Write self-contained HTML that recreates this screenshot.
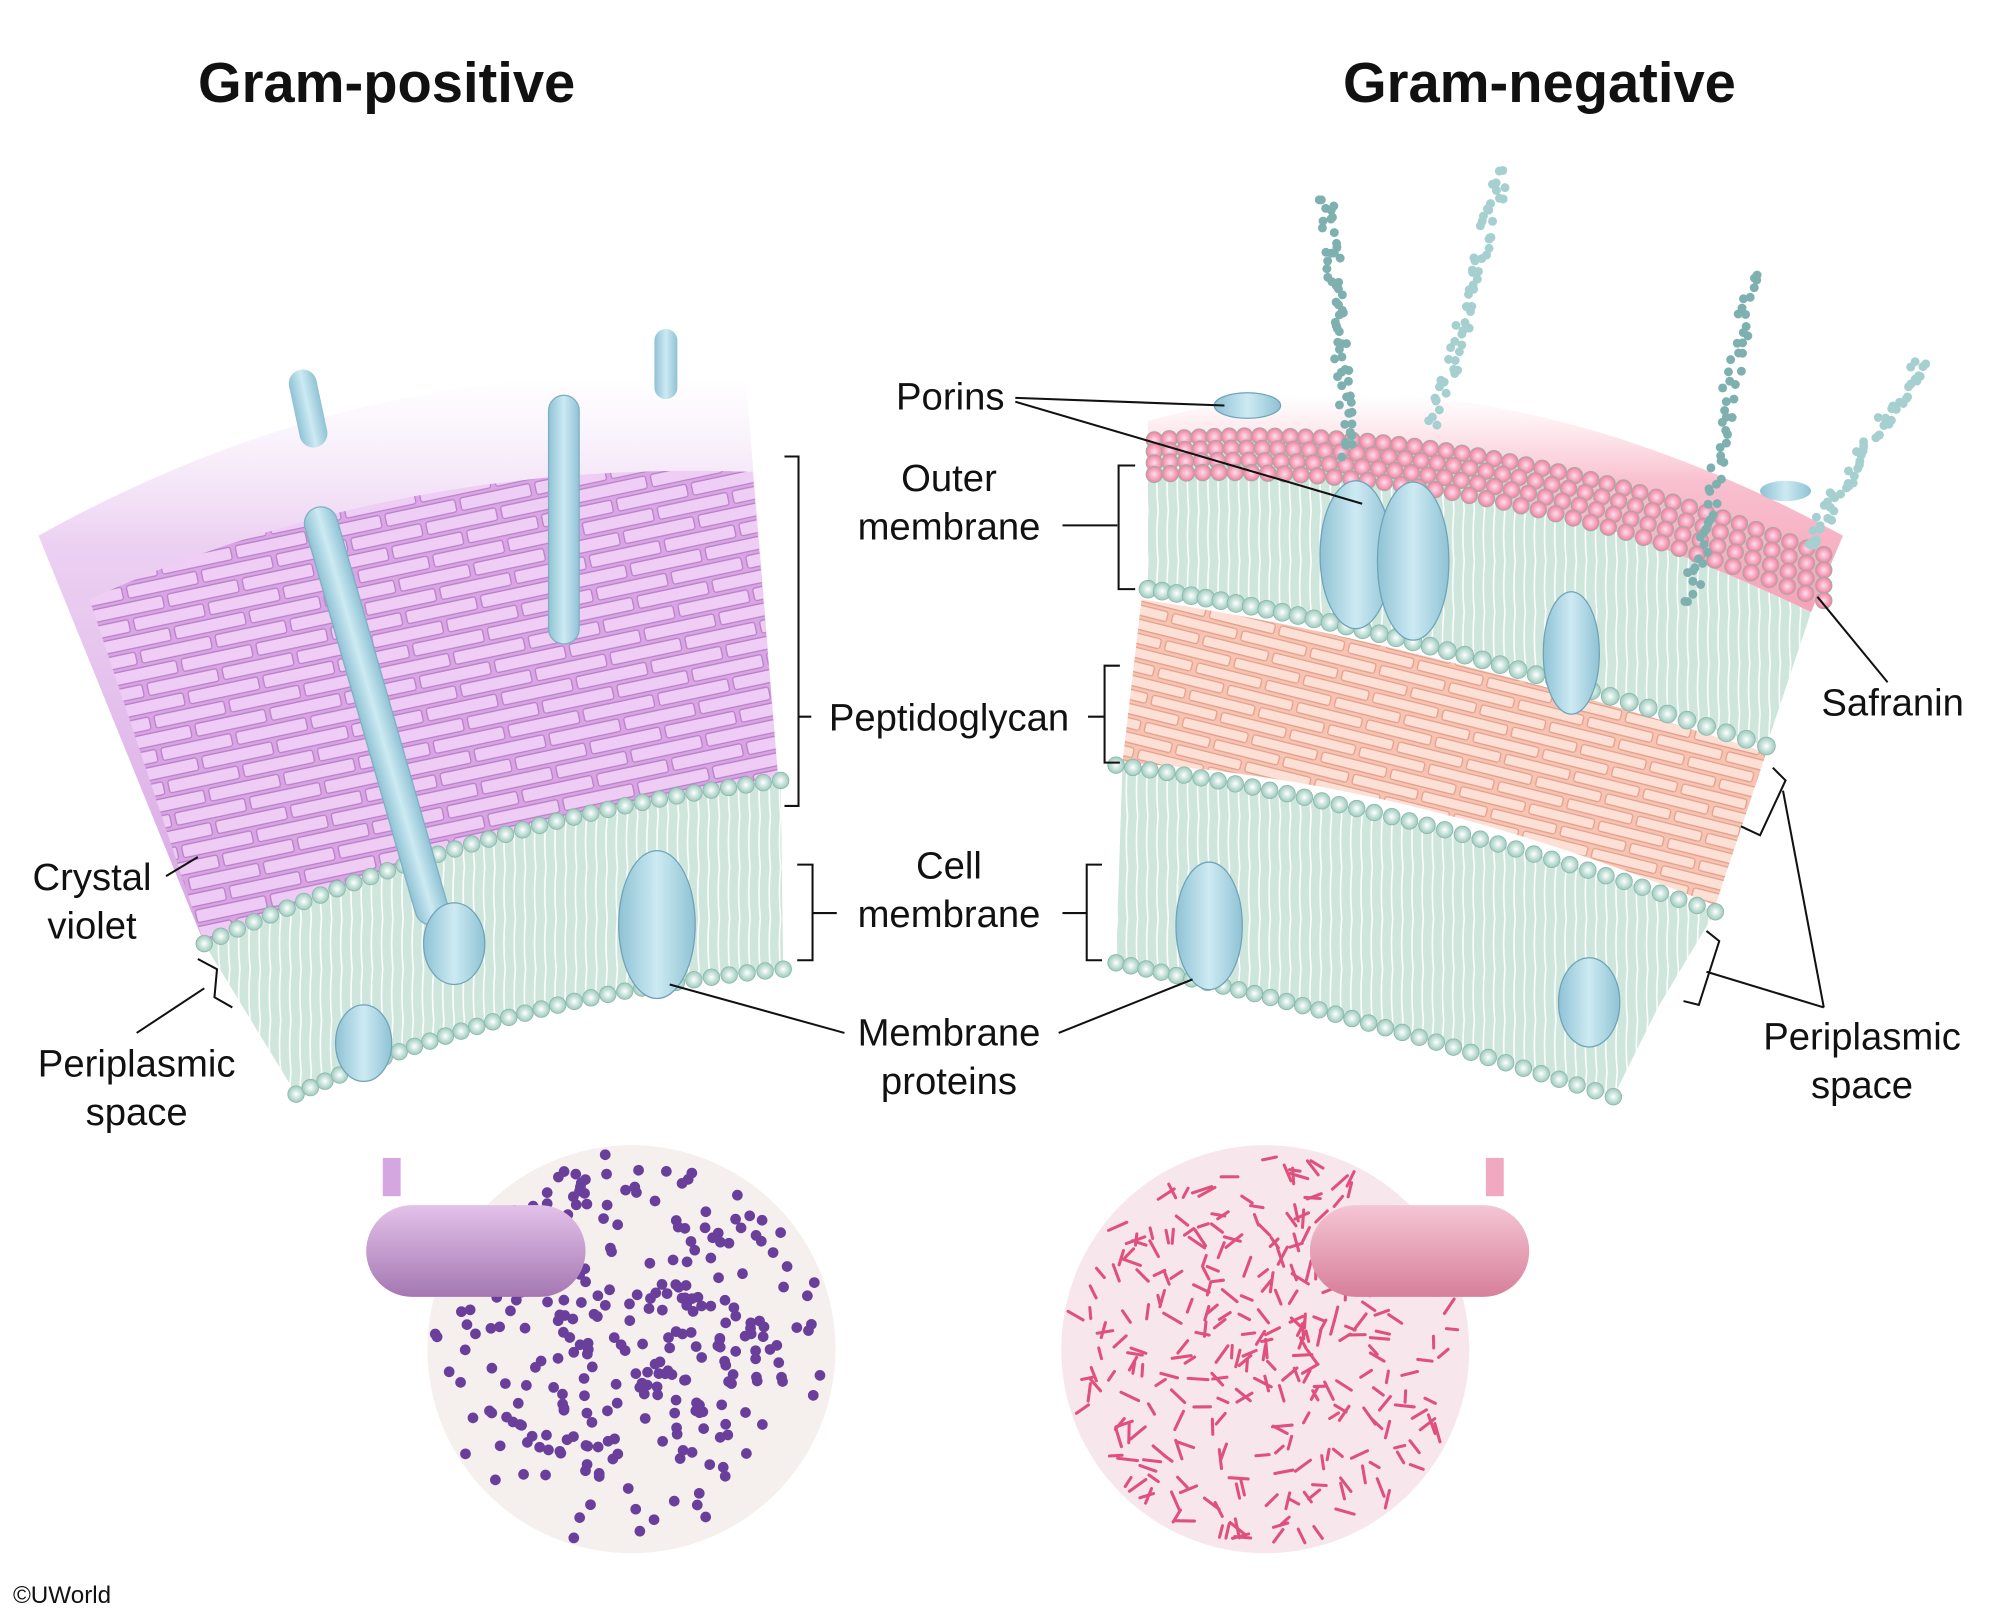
<!DOCTYPE html>
<html><head><meta charset="utf-8"><style>
html,body{margin:0;padding:0;background:#fff}
svg{display:block}
text{font-family:"Liberation Sans",Arial,sans-serif;fill:#111}
</style></head><body>
<svg id="s" width="2000" height="1617" viewBox="0 0 1568 1268" xmlns="http://www.w3.org/2000/svg">
<defs>
<linearGradient id="pfade" x1="0" y1="0" x2="0" y2="1">
<stop offset="0" stop-color="#f3e3f7" stop-opacity="0"/><stop offset="0.3" stop-color="#ecd0f2"/><stop offset="1" stop-color="#d8a7e4"/></linearGradient>
<linearGradient id="rfade" x1="0" y1="0" x2="0" y2="1">
<stop offset="0" stop-color="#fbd3dd" stop-opacity="0"/><stop offset="0.4" stop-color="#f9c0cf"/><stop offset="1" stop-color="#f5a3b8"/></linearGradient>
<pattern id="brick" width="60" height="26" patternUnits="userSpaceOnUse" patternTransform="rotate(-12)">
<rect width="60" height="26" fill="#d9a3e4"/>
<rect x="1" y="2" width="56" height="10" rx="2" fill="#efcdf5" stroke="#b57dc5" stroke-width="1"/>
<rect x="-29" y="15" width="56" height="10" rx="2" fill="#efcdf5" stroke="#b57dc5" stroke-width="1"/>
<rect x="31" y="15" width="56" height="10" rx="2" fill="#efcdf5" stroke="#b57dc5" stroke-width="1"/>
</pattern>
<pattern id="brick2" width="56" height="22" patternUnits="userSpaceOnUse" patternTransform="rotate(14)">
<rect width="56" height="22" fill="#f7c3b2"/>
<rect x="1" y="2" width="52" height="8" rx="2" fill="#fde0d5" stroke="#e3a08c" stroke-width="1"/>
<rect x="-27" y="13" width="52" height="8" rx="2" fill="#fde0d5" stroke="#e3a08c" stroke-width="1"/>
<rect x="29" y="13" width="52" height="8" rx="2" fill="#fde0d5" stroke="#e3a08c" stroke-width="1"/>
</pattern>
<pattern id="lipid" width="8" height="40" patternUnits="userSpaceOnUse">
<rect width="8" height="40" fill="#cfe6dd"/><path d="M4 0 Q2 20 4 40" stroke="#fff" stroke-width="1.2" fill="none"/></pattern>
<radialGradient id="bead"><stop offset="0" stop-color="#fff"/><stop offset="1" stop-color="#9ccbbd"/></radialGradient>
<radialGradient id="pbead"><stop offset="0" stop-color="#fde"/><stop offset="1" stop-color="#ef7f9c"/></radialGradient>
<linearGradient id="prot" x1="0" y1="0" x2="1" y2="0"><stop offset="0" stop-color="#8fc2d4"/><stop offset="0.5" stop-color="#cdeaf3"/><stop offset="1" stop-color="#8fc2d4"/></linearGradient>
<linearGradient id="pillP" x1="0" y1="0" x2="0" y2="1"><stop offset="0" stop-color="#e3c2ea"/><stop offset="1" stop-color="#a577b2"/></linearGradient>
<linearGradient id="pillR" x1="0" y1="0" x2="0" y2="1"><stop offset="0" stop-color="#f5c6d5"/><stop offset="1" stop-color="#d77f9b"/></linearGradient>
</defs>

<text x="303" y="80" font-size="44" font-weight="bold" text-anchor="middle">Gram-positive</text>
<text x="1207" y="80" font-size="44" font-weight="bold" text-anchor="middle">Gram-negative</text>

<!-- LEFT -->
<path d="M30 420 Q300 270 585 300 L610 610 Q380 640 160 740 Z" fill="url(#pfade)"/>
<path d="M70 470 Q310 360 590 370 L610 610 Q380 640 160 740 Z" fill="url(#brick)" opacity="0.95"/>
<path d="M160 740 Q380 640 612 612 L614 760 Q400 780 232 858 Z" fill="url(#lipid)"/>
<g id="lb"></g>
<rect x="430" y="310" width="24" height="195" rx="12" fill="url(#prot)" stroke="#7fb0c2"/>
<rect x="235" y="398" width="26" height="340" rx="13" fill="url(#prot)" stroke="#7fb0c2" transform="rotate(-16 248 398)"/>
<rect x="224" y="290" width="22" height="62" rx="11" fill="url(#prot)" transform="rotate(-12 235 290)"/>
<rect x="513" y="258" width="18" height="55" rx="9" fill="url(#prot)"/>
<ellipse cx="356" cy="740" rx="24" ry="32" fill="url(#prot)" stroke="#6fa3b8"/>
<ellipse cx="515" cy="725" rx="30" ry="58" fill="url(#prot)" stroke="#6fa3b8"/>
<ellipse cx="285" cy="818" rx="22" ry="30" fill="url(#prot)" stroke="#6fa3b8"/>

<!-- RIGHT -->
<path d="M900 330 Q1150 260 1445 420 L1420 480 Q1150 350 900 360 Z" fill="url(#rfade)"/>
<path d="M900 360 Q1150 350 1420 480 L1385 585 Q1100 490 900 462 Z" fill="url(#lipid)"/>
<path d="M895 470 Q1100 500 1385 590 L1345 710 Q1100 610 880 598 Z" fill="url(#brick2)"/>
<path d="M880 600 Q1100 630 1345 715 L1300 790 L1265 860 Q1050 790 875 755 Z" fill="url(#lipid)"/>
<g id="rb"></g>
<g fill="#87b6b8" id="lps"></g>
<ellipse cx="978" cy="318" rx="26" ry="10" fill="url(#prot)" stroke="#6fa3b8"/>
<ellipse cx="1063" cy="435" rx="28" ry="58" fill="url(#prot)" stroke="#6fa3b8"/>
<ellipse cx="1108" cy="440" rx="28" ry="62" fill="url(#prot)" stroke="#6fa3b8"/>
<ellipse cx="1232" cy="512" rx="22" ry="48" fill="url(#prot)" stroke="#6fa3b8"/>
<ellipse cx="948" cy="726" rx="26" ry="50" fill="url(#prot)" stroke="#6fa3b8"/>
<ellipse cx="1246" cy="786" rx="24" ry="35" fill="url(#prot)" stroke="#6fa3b8"/>
<ellipse cx="1400" cy="385" rx="20" ry="8" fill="url(#prot)"/>

<!-- labels -->
<g stroke="#111" stroke-width="1.6" fill="none">
<path d="M796 312 L960 318 M796 315 L1068 395"/>
<path d="M833 412 L876 412 M890 365 L877 365 L877 462 L890 462"/>
<path d="M615 358 L626 358 L626 632 L615 632 M626 562 L636 562"/>
<path d="M853 562 L866 562 M878 522 L866 522 L866 598 L878 598"/>
<path d="M625 678 L637 678 L637 753 L625 753 M637 716 L656 716"/>
<path d="M833 716 L852 716 M864 678 L852 678 L852 753 L864 753"/>
<path d="M662 810 L525 772 M830 810 L935 768"/>
<path d="M130 687 L155 672"/>
<path d="M107 810 L160 775 M155 752 L170 760 L168 782 L182 790"/>
<path d="M1480 535 L1425 468"/>
<path d="M1430 790 L1398 620 M1430 790 L1338 762 M1390 602 L1400 612 L1380 655 L1365 648 M1338 730 L1348 738 L1332 788 L1320 785"/>
</g>
<g font-size="30" text-anchor="middle">
<text x="745" y="321">Porins</text>
<text x="744" y="385">Outer</text><text x="744" y="423">membrane</text>
<text x="744" y="573">Peptidoglycan</text>
<text x="744" y="689">Cell</text><text x="744" y="727">membrane</text>
<text x="744" y="820">Membrane</text><text x="744" y="858">proteins</text>
<text x="72" y="698">Crystal</text><text x="72" y="736">violet</text>
<text x="107" y="844">Periplasmic</text><text x="107" y="882">space</text>
<text x="1484" y="561">Safranin</text>
<text x="1460" y="823">Periplasmic</text><text x="1460" y="861">space</text>
</g>
<text x="10" y="1257" font-size="19">©UWorld</text>

<!-- circles -->
<circle cx="495" cy="1058" r="160" fill="#f5f0ee"/>
<g id="cd"></g>
<circle cx="992" cy="1058" r="160" fill="#f7e7ec"/>
<g id="rd"></g>
<rect x="287" y="945" width="172" height="72" rx="36" fill="url(#pillP)"/>
<rect x="300" y="908" width="14" height="30" fill="#d6a6e0"/>
<rect x="1027" y="945" width="172" height="72" rx="36" fill="url(#pillR)"/>
<rect x="1165" y="908" width="14" height="30" fill="#f0a9c0"/>
</svg>
<script>
var NS="http://www.w3.org/2000/svg";
function el(p,t,a){var e=document.createElementNS(NS,t);for(var k in a)e.setAttribute(k,a[k]);document.getElementById(p).appendChild(e);return e;}
var seed=7;function r(){seed=(seed*16807)%2147483647;return seed/2147483647;}
function q(p0,p1,p2,t){return [(1-t)*(1-t)*p0[0]+2*(1-t)*t*p1[0]+t*t*p2[0],(1-t)*(1-t)*p0[1]+2*(1-t)*t*p1[1]+t*t*p2[1]];}
function beads(g,a,b,c,n,rad,f){for(var i=0;i<=n;i++){var p=q(a,b,c,i/n);el(g,"circle",{cx:p[0],cy:p[1],r:rad,fill:f,stroke:"#8bb5a8","stroke-width":0.6});}}
beads("lb",[160,740],[380,640],[612,612],34,6.5,"url(#bead)");
beads("lb",[232,858],[400,780],[614,760],30,6.5,"url(#bead)");
beads("rb",[900,462],[1100,490],[1385,585],36,7,"url(#bead)");
beads("rb",[875,600],[1100,630],[1345,715],34,6.5,"url(#bead)");
beads("rb",[875,755],[1050,790],[1265,860],30,6.5,"url(#bead)");
for(var row=0;row<4;row++)beads("rb",[905,345+row*9],[1150,325+row*11],[1430,435+row*12],42-row,6.5,"url(#pbead)");
function lps(x1,y1,x2,y2,c){for(var i=0;i<60;i++){var t=i/60;var x=x1+(x2-x1)*t+(r()-0.5)*12,y=y1+(y2-y1)*t+(r()-0.5)*8;el("lps","circle",{cx:x,cy:y,r:3.5,fill:c});}}
lps(1058,355,1040,150,"#7fb0b0");lps(1125,330,1180,130,"#a6d0d0");lps(1325,475,1375,210,"#7fb0b0");lps(1415,430,1510,280,"#a6d0d0");
for(var i=0;i<700;i++){var a=r()*6.283,d=Math.sqrt(r())*155;var x=495+Math.cos(a)*d,y=1058+Math.sin(a)*d;var cd=Math.hypot(x-510,y-1060);if(r()<(cd<90?0.6:0.3))el("cd","circle",{cx:x,cy:y,r:4.2,fill:"#6a3f9c"});}
for(var i=0;i<300;i++){var a=r()*6.283,d=Math.sqrt(r())*152;var x=992+Math.cos(a)*d,y=1058+Math.sin(a)*d;var an=r()*6.283,L=8+r()*8;el("rd","line",{x1:x-Math.cos(an)*L/2,y1:y-Math.sin(an)*L/2,x2:x+Math.cos(an)*L/2,y2:y+Math.sin(an)*L/2,stroke:"#e0507e","stroke-width":2.4,"stroke-linecap":"round"});}
</script>
</body></html>
